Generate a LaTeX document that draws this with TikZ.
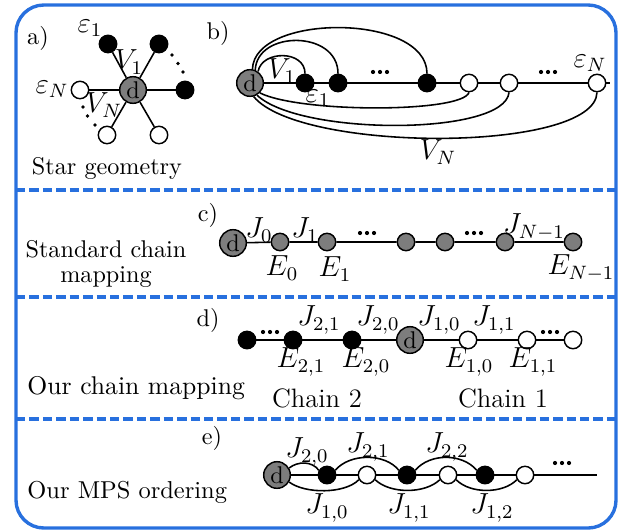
\documentclass[tikz,border=0pt]{standalone}
\usepackage{amsmath}
\definecolor{frameblue}{RGB}{40,112,222}
\definecolor{dgray}{RGB}{125,125,125}
\newcommand{\mydots}[1]{%
  \fill #1 ++(-7,0) circle[radius=2.1];
  \fill #1 circle[radius=2.1];
  \fill #1 ++(7,0) circle[radius=2.1];}
\newcommand{\pdot}[1]{\fill #1 circle[radius=1.8];}
\begin{document}
\begin{tikzpicture}[x=0.4133pt,y=-0.4133pt,
  every node/.style={inner sep=0pt},
  dn/.style={circle,draw,fill=dgray,minimum size=11pt,line width=0.6pt},
  bn/.style={circle,draw,fill=black,minimum size=7.2pt,line width=0.6pt},
  wn/.style={circle,draw,fill=white,minimum size=7.2pt,line width=0.6pt},
  gn/.style={circle,draw,fill=dgray,minimum size=7.2pt,line width=0.6pt},
  lab/.style={font=\fontsize{11.5}{13}\selectfont},
  ln/.style={line width=0.65pt},
  sep/.style={draw=frameblue,line width=1.4pt,dash pattern=on 3.9pt off 1.65pt}
]
\useasboundingbox (0,0) rectangle (623,531);
% frame
\draw[frameblue,line width=1.4pt,rounded corners=11.5pt] (16,5) rectangle (616,528);
\draw[sep] (16,190) -- (616,190);
\draw[sep] (16,297) -- (616,297);
\draw[sep] (16,419) -- (616,419);

% ---------- a) star ----------
\node (la) at (38,38) {a)};
\node[dn] (a0) at (133,90) {d};
\node[bn] (a1) at (108,44) {};
\node[bn] (a2) at (159,44) {};
\node[bn] (a3) at (185,90) {};
\node[wn] (a4) at (80,90) {};
\node[wn] (a5) at (107,135) {};
\node[wn] (a6) at (159,135) {};
\foreach \n in {a1,a2,a3,a4,a5,a6} \draw[ln] (a0) -- (\n);
\pdot{(172,55)}\pdot{(178,63.5)}\pdot{(183,72)}
\pdot{(83,107)}\pdot{(87.5,116)}\pdot{(95,125)}
\node[lab] (ae1) at (90,28) {$\varepsilon_1$};
\node[lab] (av1) at (129,62) {$V_1$};
\node[lab] (aeN) at (52,89) {$\varepsilon_N$};
\node[lab] (avN) at (104,105) {$V_N$};
\node (star) at (107,168) {Star geometry};

% ---------- b) ----------
\node (lb) at (218,33) {b)};
\node[dn] (bd) at (250,83) {d};
\node[bn] (b1) at (305,83) {};
\node[bn] (b2) at (338,83) {};
\node[bn] (b3) at (427,83) {};
\node[wn] (b4) at (469,83) {};
\node[wn] (b5) at (509,83) {};
\node[wn] (b6) at (597,83) {};
\coordinate (bend) at (610,83);
\draw[ln] (bd) -- (b1) -- (b2) -- (b3) -- (b4) -- (b5) -- (b6) -- (bend);
\draw[ln] (bd.55) .. controls (262,50) and (305,50) .. (b1.north);
\draw[ln] (bd.68) .. controls (257,30) and (338,30) .. (b2.north);
\draw[ln] (bd.80) .. controls (254,13) and (427,13) .. (b3.north);
\draw[ln] (bd.-45) .. controls (300,113) and (462,113) .. (b4.south);
\draw[ln] (bd.-60) .. controls (300,136) and (505,136) .. (b5.south);
\draw[ln] (bd.-75) .. controls (300,153) and (595,153) .. (b6.south);
\mydots{(380,72)}
\mydots{(548,72)}
\node[lab] (bv1) at (282,71) {$V_1$};
\node[lab] (be1) at (318,98) {$\varepsilon_1$};
\node[lab] (beN) at (590,63) {$\varepsilon_N$};
\node[lab] (bvN) at (438,152) {$V_N$};

% ---------- c) ----------
\node (lc) at (208,215) {c)};
\node (tc) at (106,264) [align=center,font=\fontsize{10}{10}\selectfont] {Standard chain\\mapping};
\node[dn] (cd) at (233,243) {d};
\node[gn] (c1) at (280,242) {};
\node[gn] (c2) at (327,242) {};
\node[gn] (c3) at (406,242) {};
\node[gn] (c4) at (445,242) {};
\node[gn] (c5) at (505,242) {};
\node[gn] (c6) at (573,242) {};
\draw[ln] (cd) -- (c1) -- (c2) -- (c3) -- (c4) -- (c5) -- (c6);
\mydots{(367,233)}
\mydots{(474,233)}
\node[lab] (cj0) at (259,230) {$J_0$};
\node[lab] (cj1) at (305,230) {$J_1$};
\node[lab] (ce0) at (282,268) {$E_0$};
\node[lab] (ce1) at (335,269) {$E_1$};
\node[lab] (cjn) at (534,227) {$J_{N-1}$};
\node[lab] (cen) at (581,268) {$E_{N-1}$};

% ---------- d) ----------
\node (ld) at (208,320) {d)};
\node[anchor=west,font=\fontsize{10.6}{13}\selectfont] (td) at (27,388) {Our chain mapping};
\node[bn] (d1) at (247,340) {};
\node[bn] (d2) at (293,340) {};
\node[bn] (d3) at (352,340) {};
\node[dn] (dd) at (410,340) {d};
\node[wn] (d4) at (468,340) {};
\node[wn] (d5) at (527,340) {};
\node[wn] (d6) at (573,340) {};
\draw[ln] (d1) -- (d2) -- (d3) -- (dd) -- (d4) -- (d5) -- (d6);
\mydots{(270,332)}
\mydots{(550,332)}
\node[lab] (dj21) at (319,320) {$J_{2,1}$};
\node[lab] (dj20) at (378,320) {$J_{2,0}$};
\node[lab] (dj10) at (439,320) {$J_{1,0}$};
\node[lab] (dj11) at (494,320) {$J_{1,1}$};
\node[lab] (de21) at (301,362) {$E_{2,1}$};
\node[lab] (de20) at (366,362) {$E_{2,0}$};
\node[lab] (de10) at (469,362) {$E_{1,0}$};
\node[lab] (de11) at (533,362) {$E_{1,1}$};
\node[font=\fontsize{11}{13}\selectfont] (ch2) at (317,398) {Chain 2};
\node[font=\fontsize{11}{13}\selectfont] (ch1) at (503,398) {Chain 1};

% ---------- e) ----------
\node (le) at (212,438) {e)};
\node[anchor=west,font=\fontsize{10.1}{12}\selectfont] (te) at (27,492) {Our MPS ordering};
\node[dn] (ed) at (277,475) {d};
\node[bn] (e1) at (327,475) {};
\node[wn] (e2) at (367,475) {};
\node[bn] (e3) at (407,475) {};
\node[wn] (e4) at (448,475) {};
\node[bn] (e5) at (485,475) {};
\node[wn] (e6) at (525,475) {};
\coordinate (eend) at (597,475);
\draw[ln] (ed) -- (e1) -- (e2) -- (e3) -- (e4) -- (e5) -- (e6) -- (eend);
\draw[ln] (ed.30) .. controls (298,461) and (312,461) .. (e1.150);
\draw[ln] (ed.-30) .. controls (305,494) and (345,494) .. (e2.-150);
\draw[ln] (e1.30) .. controls (350,453) and (385,453) .. (e3.150);
\draw[ln] (e2.-30) .. controls (390,494) and (425,494) .. (e4.-150);
\draw[ln] (e3.30) .. controls (430,453) and (462,453) .. (e5.150);
\draw[ln] (e4.-30) .. controls (470,494) and (503,494) .. (e6.-150);
\mydots{(562,463)}
\node[lab] (ej20) at (307,452) {$J_{2,0}$};
\node[lab] (ej21) at (368,447) {$J_{2,1}$};
\node[lab] (ej22) at (447,447) {$J_{2,2}$};
\node[lab] (ej10) at (327,508) {$J_{1,0}$};
\node[lab] (ej11) at (409,508) {$J_{1,1}$};
\node[lab] (ej12) at (492,508) {$J_{1,2}$};
\end{tikzpicture}
\end{document}
